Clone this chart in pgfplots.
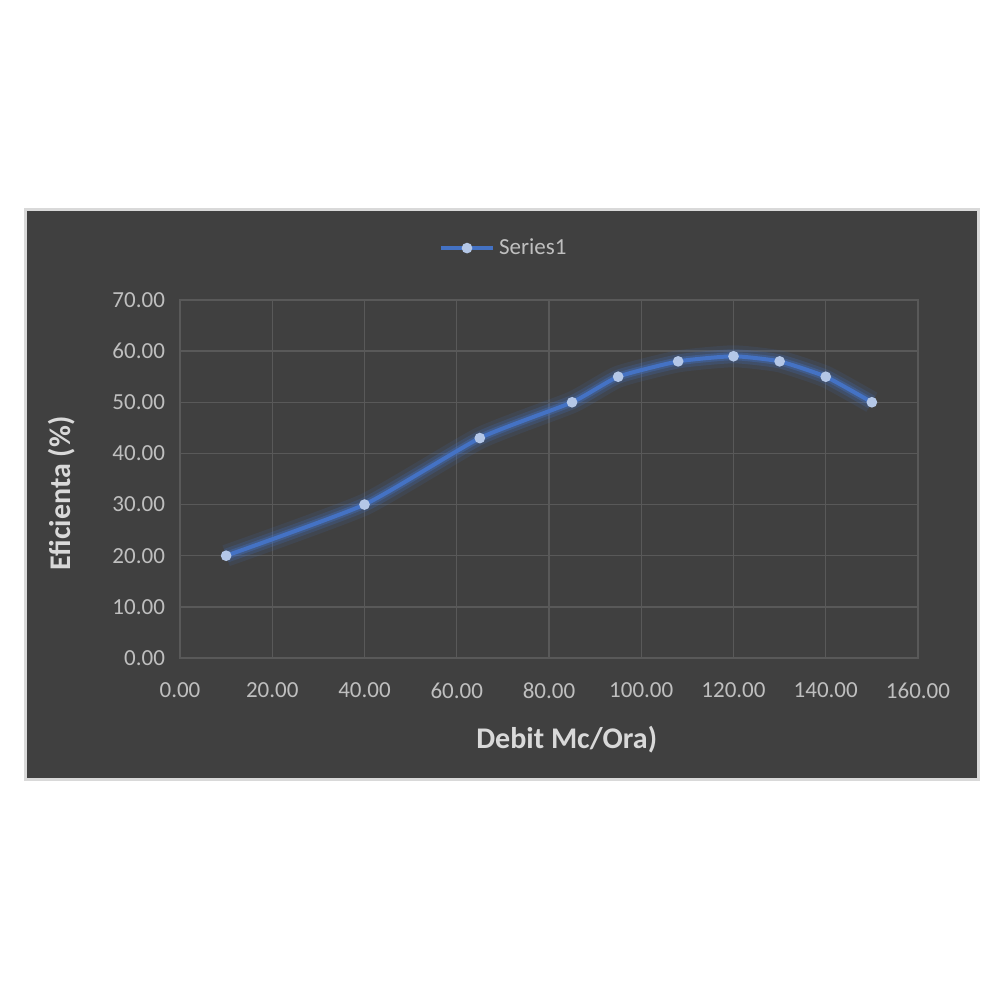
\documentclass[border=0pt]{standalone}
\usepackage{fontspec}
\setmainfont{Carlito}
\usepackage{pgfplots}
\pgfplotsset{compat=1.18}
\definecolor{bgdark}{HTML}{404040}
\definecolor{gridc}{HTML}{595959}
\definecolor{framec}{HTML}{D9D9D9}
\definecolor{tickc}{HTML}{BFBFBF}
\definecolor{serblue}{HTML}{4472C4}
\definecolor{markc}{HTML}{B4C7E7}
\begin{document}
\begin{tikzpicture}
% page: 1000 px = 500 pt
\path[use as bounding box, fill=white] (0pt,0pt) rectangle (500pt,500pt);
\path[fill=bgdark, draw=framec, line width=1.5pt] (12.5pt,110pt) rectangle (489pt,395pt);
\begin{axis}[
    at={(90pt,171pt)}, anchor=south west,
    scale only axis, width=369pt, height=179pt,
    xmin=0, xmax=160, ymin=0, ymax=70,
    xtick={0,20,...,160}, ytick={0,10,...,70},
    grid=major, major grid style={gridc, line width=0.7pt},
    axis line style={gridc, line width=0.7pt},
    major tick length=0pt,
    /pgf/number format/assume math mode=true,
    xticklabel={\pgfmathprintnumber[fixed, fixed zerofill, precision=2]{\tick}},
    yticklabel={\pgfmathprintnumber[fixed, fixed zerofill, precision=2]{\tick}},
    ticklabel style={font=\fontsize{11.5}{13}\selectfont, text=tickc},
    xticklabel style={yshift=-9pt},
    yticklabel style={xshift=-4pt},
    xlabel={Debit Mc/Ora)},
    ylabel={Eficienta (\%)},
    label style={font=\fontsize{15}{18}\selectfont\bfseries, text=framec},
    xlabel style={at={(rel axis cs:0.524,0)}, anchor=center, yshift=-41pt},
    ylabel style={at={(rel axis cs:0,0.46)}, anchor=center, yshift=59pt},
    legend style={at={(rel axis cs:0.44,1.145)}, anchor=center, draw=none, fill=none,
        text=tickc, font=\fontsize{11.5}{13}\selectfont},
    legend image code/.code={
        \draw[serblue, line width=2pt] (0pt,0pt) -- (26pt,0pt);
        \fill[markc] (13pt,0pt) circle (1.6pt);},
]
\addplot[forget plot, smooth, tension=0.3, serblue, opacity=0.12, line width=11pt] coordinates {
(10,20) (40,30) (65,43) (85,50) (95,55) (108,58) (120,59) (130,58) (140,55) (150,50)};
\addplot[forget plot, smooth, tension=0.3, serblue, opacity=0.22, line width=7pt] coordinates {
(10,20) (40,30) (65,43) (85,50) (95,55) (108,58) (120,59) (130,58) (140,55) (150,50)};
\addplot[forget plot, smooth, tension=0.3, serblue, opacity=0.35, line width=4pt] coordinates {
(10,20) (40,30) (65,43) (85,50) (95,55) (108,58) (120,59) (130,58) (140,55) (150,50)};
\addplot[smooth, tension=0.3, serblue, line width=2pt, mark=*, mark size=1.6pt,
    mark options={fill=markc, draw=markc}] coordinates {
(10,20) (40,30) (65,43) (85,50) (95,55) (108,58) (120,59) (130,58) (140,55) (150,50)};
\legend{Series1}
\end{axis}
\end{tikzpicture}
\end{document}
